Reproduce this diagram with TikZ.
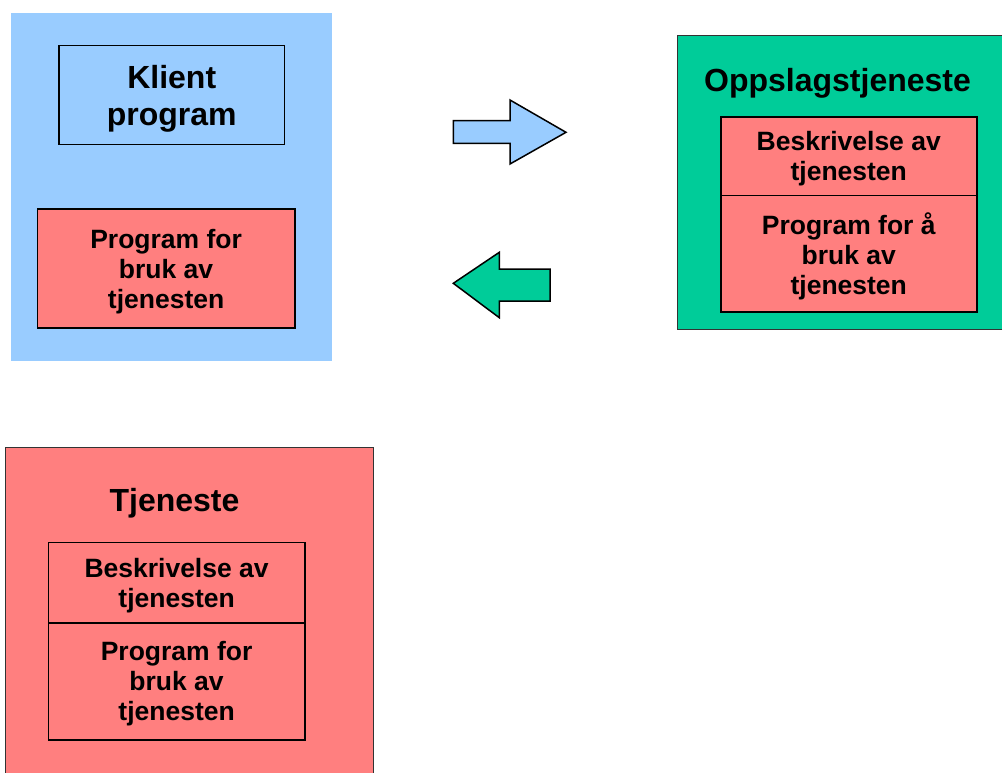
\documentclass[tikz,border=0pt]{standalone}
\usepackage{fontspec}
\setmainfont{Liberation Sans}
\definecolor{skyC}{HTML}{99CCFF}
\definecolor{greenC}{HTML}{00CC99}
\definecolor{salmonC}{HTML}{FF7F7F}
\tikzset{
  cell/.style={draw=black, line width=1.5pt, anchor=north west, inner sep=0pt,
    align=center, text depth=0pt, font=\bfseries\fontsize{26.5}{30}\selectfont},
  outer/.style={anchor=north west, inner sep=0pt},
  title/.style={anchor=base, font=\bfseries\fontsize{32}{37}\selectfont, inner sep=0pt},
  blockarrow/.style={draw=black, line width=1.5pt, line join=miter},
}
\begin{document}
\begin{tikzpicture}[x=1pt,y=-1pt]
\useasboundingbox (0,0) rectangle (1002,772);
% client area
\node[outer, fill=skyC, minimum width=321, minimum height=348] (client) at (11,13) {};
\node[cell, fill=skyC, minimum width=225.4, minimum height=99,
  font=\bfseries\fontsize{32}{37}\selectfont] (klient) at (58.3,44.7) {Klient\\program};
\node[cell, fill=salmonC, minimum width=257.3, minimum height=118.7] (bruk) at (36.7,208.3) {Program for\\bruk av\\tjenesten};
% lookup service
\node[outer, fill=greenC, draw=black!80, line width=1pt, minimum width=340, minimum height=294.3] (oppslag) at (677,35) {};
\node[title] (oppslagtitle) at (837.5,91.7) {Oppslagstjeneste};
\node[cell, fill=salmonC, minimum width=256, minimum height=78.7] (obeskr) at (720,116) {Beskrivelse av\\tjenesten};
\node[cell, fill=salmonC, minimum width=256, minimum height=116.3] (oprog) at (720,194.7) {Program for å\\bruk av\\tjenesten};
% service
\node[outer, fill=salmonC, draw=black!80, line width=1pt, minimum width=367.7, minimum height=340] (tjeneste) at (5,447.3) {};
\node[title] (tjenestetitle) at (174.5,511.7) {Tjeneste};
\node[cell, fill=salmonC, minimum width=256.3, minimum height=80.3] (tbeskr) at (47.7,541.7) {Beskrivelse av\\tjenesten};
\node[cell, fill=salmonC, minimum width=256.3, minimum height=117] (tprog) at (47.7,622) {Program for\\bruk av\\tjenesten};
% block arrows
\draw[blockarrow, fill=skyC] (453.3,120.7) -- (510,120.7) -- (510,100) -- (566,132.3)
  -- (510,164) -- (510,143.3) -- (453.3,143.3) -- cycle;
\draw[blockarrow, fill=greenC] (550,269) -- (499.3,269) -- (499.3,252.3) -- (453.3,283.3)
  -- (499.3,317.7) -- (499.3,301) -- (550,301) -- cycle;
\end{tikzpicture}
\end{document}
